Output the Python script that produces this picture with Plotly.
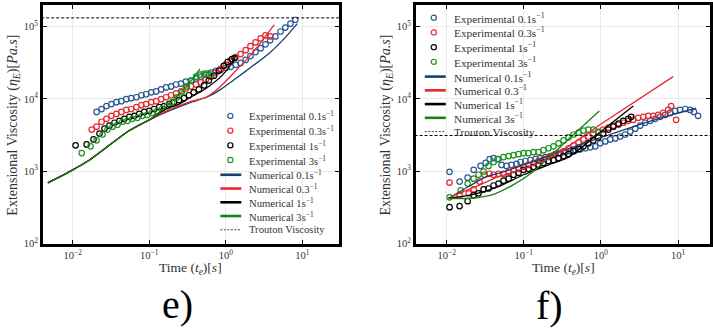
import plotly.graph_objects as go

W, H = 713, 332

# ---------------- Panel e) ----------------
e_exp01_t = [0.0205, 0.0238, 0.0276, 0.032, 0.0372, 0.0432, 0.050, 0.058, 0.068, 0.079, 0.091, 0.106, 0.123, 0.143,
             0.166, 0.193, 0.224, 0.26, 0.30, 0.35, 0.41, 0.47, 0.55, 0.64, 0.74, 0.86, 1.0, 1.16, 1.35, 1.56, 1.82,
             2.1, 2.45, 2.85, 3.3, 3.8, 4.45, 5.2, 6.0, 7.0, 8.1]
e_exp01_eta = [6610, 7240, 7960, 8470, 9020, 9300, 9910, 10230, 10550, 11230, 11590, 12330, 12710, 13540, 14420,
               14870, 15820, 16320, 17380, 17930, 19090, 20330, 21650, 23030, 24500, 25290, 26920, 27790, 29580,
               31480, 34590, 39180, 44370, 50250, 56950, 64550, 73110, 85520, 96800, 109800, 124400]

e_exp03_t = [0.0177, 0.0205, 0.0238, 0.0276, 0.032, 0.0372, 0.0432, 0.050, 0.058, 0.068, 0.079, 0.091, 0.106, 0.123,
             0.143, 0.166, 0.193, 0.224, 0.26, 0.30, 0.35, 0.41, 0.47, 0.55, 0.64, 0.74, 0.86, 1.0, 1.16, 1.35, 1.56,
             1.82, 2.1, 2.45, 2.85, 3.3, 3.8]
e_exp03_eta = [3760, 4130, 4830, 5310, 5830, 6200, 6610, 7030, 7250, 7710, 8220, 8470, 9020, 9300, 9910, 10550,
               11230, 11950, 12710, 13960, 14870, 15820, 16860, 18510, 20330, 23030, 26110, 29580, 33510, 37960,
               41700, 47210, 53550, 60670, 68710, 75510, 73110]

e_exp1_t = [0.0109, 0.0152, 0.0187, 0.0224, 0.026, 0.0302, 0.0351, 0.0408, 0.0473, 0.055, 0.0638, 0.074, 0.086, 0.1,
            0.116, 0.135, 0.157, 0.182, 0.21, 0.245, 0.284, 0.33, 0.38, 0.445, 0.52, 0.6, 0.7, 0.81, 0.94, 1.06,
            1.2, 1.3]
e_exp1_eta = [2280, 2350, 2750, 3320, 3880, 4260, 4680, 4980, 5300, 5650, 5830, 6200, 6600, 6810, 7250, 7710, 7960,
              8470, 9020, 9600, 10230, 11230, 12330, 13540, 15350, 17930, 20980, 24500, 28650, 32500, 35660, 36800]

e_exp3_t = [0.0131, 0.0171, 0.0205, 0.0245, 0.0285, 0.0331, 0.0384, 0.0446, 0.0518, 0.060, 0.070, 0.081, 0.094,
            0.109, 0.127, 0.147, 0.171, 0.199, 0.231, 0.268, 0.31, 0.36, 0.41, 0.46, 0.52, 0.58, 0.64]
e_exp3_eta = [1780, 2210, 2670, 3220, 3760, 4130, 4390, 4830, 4980, 5300, 5470, 5830, 6010, 6400, 6810, 7250, 7960,
              9020, 10550, 12330, 14870, 17930, 20330, 21650, 22340, 22340, 21650]

e_num01_t = [0.00473, 0.01, 0.0166, 0.0277, 0.055, 0.1, 0.157, 0.33, 0.6, 0.86, 1.35, 2.17, 3.6, 6.0, 8.6]
e_num01_eta = [690, 1045, 1430, 2140, 3650, 5100, 6400, 8750, 10880, 13540, 19090, 27790, 41700, 70960, 109800]
e_num03_t = [0.00473, 0.01, 0.0166, 0.0277, 0.055, 0.1, 0.157, 0.33, 0.55, 0.81, 1.35, 2.17, 2.95, 4.3]
e_num03_eta = [690, 1045, 1430, 2140, 3650, 5120, 6600, 9020, 10550, 14200, 24500, 41700, 62500, 106400]
e_num1_t = [0.00473, 0.01, 0.0166, 0.0277, 0.055, 0.1, 0.157, 0.245, 0.33, 0.55, 0.89, 1.2, 1.35]
e_num1_eta = [690, 1045, 1430, 2140, 3650, 5140, 7030, 8470, 10230, 13960, 20980, 31000, 40000]
e_num3_t = [0.00473, 0.01, 0.0166, 0.0277, 0.055, 0.1, 0.157, 0.211, 0.285, 0.362, 0.459]
e_num3_eta = [690, 1045, 1430, 2140, 3650, 5140, 7480, 9910, 13540, 18510, 26110]
e_trouton = 1.32e5

# ---------------- Panel f) ----------------
f_exp01_t = [0.0109, 0.0147, 0.0187, 0.0224, 0.0275, 0.0320, 0.0360, 0.0406, 0.0457, 0.0515, 0.0598, 0.0693,
             0.0805, 0.0906, 0.105, 0.122, 0.142, 0.164, 0.191, 0.221, 0.257, 0.298, 0.346, 0.402, 0.466, 0.541,
             0.628, 0.729, 0.847, 0.982, 1.14, 1.32, 1.54, 1.78, 2.07, 2.40, 2.79, 3.23, 3.75, 4.36, 5.06, 5.87,
             6.81, 7.91, 9.18, 10.6, 12.4, 14.4, 16.1, 18.2]
f_exp01_eta = [982, 718, 813, 1045, 1183, 1300, 1473, 1520, 1473, 1222, 1183, 1222, 1260, 1342, 1384, 1429, 1473,
               1520, 1568, 1618, 1722, 1778, 1834, 1893, 1952, 2015, 2078, 2144, 2212, 2428, 2585, 2752, 2839, 3022,
               3217, 3531, 3876, 4265, 4680, 4980, 5300, 5650, 6010, 6400, 6810, 7030, 7250, 7030, 6600, 5830]

f_exp03_t = [0.0109, 0.0147, 0.0193, 0.0224, 0.0267, 0.0310, 0.0360, 0.0406, 0.0470, 0.0546, 0.0635, 0.0737,
             0.0856, 0.0994, 0.115, 0.134, 0.155, 0.180, 0.209, 0.243, 0.282, 0.328, 0.380, 0.442, 0.513, 0.594,
             0.687, 0.797, 0.927, 1.07, 1.25, 1.45, 1.69, 1.95, 2.26, 2.63, 3.04, 3.54, 4.11, 4.77, 5.54, 6.43,
             7.46, 8.15, 9.45]
f_exp03_eta = [697, 464, 494, 560, 718, 893, 923, 893, 923, 923, 982, 1045, 1079, 1149, 1222, 1300, 1384, 1473,
               1568, 1668, 1778, 1893, 2078, 2280, 2506, 2752, 3022, 3320, 3423, 3760, 4000, 4265, 4393, 4680, 4980,
               5140, 5470, 5650, 5830, 5830, 6010, 6400, 7030, 7960, 5140]

f_exp1_t = [0.0109, 0.0147, 0.0187, 0.0224, 0.0259, 0.0301, 0.0349, 0.0406, 0.0470, 0.0546, 0.0635, 0.0737, 0.0856,
            0.0994, 0.115, 0.134, 0.155, 0.180, 0.209, 0.243, 0.282, 0.328, 0.380, 0.442, 0.513, 0.594, 0.687,
            0.797, 0.927, 1.07, 1.25, 1.45, 1.69, 1.95, 2.26, 2.47]
f_exp1_eta = [318, 329, 385, 464, 494, 560, 577, 634, 675, 741, 789, 893, 951, 1045, 1079, 1149, 1222, 1300, 1384,
              1429, 1520, 1618, 1722, 1893, 2015, 2212, 2428, 2666, 2930, 3320, 3760, 4130, 4540, 4980, 5300, 5650]

f_exp3_t = [0.0109, 0.0152, 0.0187, 0.0224, 0.0259, 0.0301, 0.0349, 0.0406, 0.0470, 0.0546, 0.0635, 0.0737, 0.0856,
            0.0994, 0.115, 0.134, 0.155, 0.180, 0.209, 0.243, 0.282, 0.328, 0.380, 0.442, 0.513, 0.594, 0.687,
            0.797, 0.927]
f_exp3_eta = [436, 542, 675, 789, 893, 990, 1183, 1342, 1473, 1568, 1618, 1668, 1722, 1778, 1778, 1834, 1834, 1952,
              2078, 2212, 2428, 2666, 2930, 3217, 3423, 3650, 3760, 3760, 3531]

f_num01_t = [0.0106, 0.0193, 0.0329, 0.0546, 0.0994, 0.282, 1.01, 4.49, 17.1]
f_num01_eta = [423, 614, 840, 982, 1222, 1834, 2930, 4980, 7480]
f_num03_t = [0.0106, 0.0166, 0.0275, 0.047, 0.0906, 0.228, 0.927, 8.65]
f_num03_eta = [423, 525, 653, 840, 1045, 1568, 4265, 20330]
f_num1_t = [0.0106, 0.0224, 0.047, 0.0994, 0.209, 0.38, 0.927, 2.63]
f_num1_eta = [423, 479, 614, 893, 1222, 1568, 3320, 7960]
f_num3_t = [0.0106, 0.0204, 0.0406, 0.0737, 0.122, 0.228, 0.442, 0.955]
f_num3_eta = [423, 423, 479, 653, 923, 1668, 3217, 6810]
f_trouton = 3.12e3

x_tick_vals = [0.01, 0.1, 1, 10]
x_tick_text = ["10<sup>\u22122</sup>", "10<sup>\u22121</sup>", "10<sup>0</sup>", "10<sup>1</sup>"]
y_tick_vals = [100, 1000, 10000, 100000]
y_tick_text = ["10<sup>2</sup>", "10<sup>3</sup>", "10<sup>4</sup>", "10<sup>5</sup>"]

legend_labels = ["Experimental 0.1s<sup>\u22121</sup>", "Experimental 0.3s<sup>\u22121</sup>",
                 "Experimental 1s<sup>\u22121</sup>", "Experimental 3s<sup>\u22121</sup>",
                 "Numerical 0.1s<sup>\u22121</sup>", "Numerical 0.3<sup>\u22121</sup>",
                 "Numerical 1s<sup>\u22121</sup>", "Numerical 3s<sup>\u22121</sup>", "Trouton Viscosity"]

# ---------------- Styles ----------------
FONT = "Liberation Serif, DejaVu Serif, serif"
C_BLUE_EXP = "#2b5a94"
C_BLUE_NUM = "#17406f"
C_RED = "#e8282e"
C_BLACK = "#000000"
C_GREEN_EXP = "#1f9420"
C_GREEN_NUM = "#158015"

exp_colors = [C_BLUE_EXP, C_RED, C_BLACK, C_GREEN_EXP]
num_colors = [C_BLUE_NUM, C_RED, C_BLACK, C_GREEN_NUM]

fig = go.Figure()


def add_panel(xa, ya, exps, nums, trouton):
    for (t, eta), col in zip(exps, exp_colors):
        fig.add_trace(go.Scatter(x=t, y=eta, mode="markers", xaxis=xa, yaxis=ya, showlegend=False,
                                 marker=dict(symbol="circle-open", size=5.5, color=col, line=dict(width=1.2))))
    for (t, eta), col in zip(nums, num_colors):
        fig.add_trace(go.Scatter(x=t, y=eta, mode="lines", xaxis=xa, yaxis=ya, showlegend=False,
                                 line=dict(color=col, width=1.3, shape="spline", smoothing=0.8)))
    fig.add_trace(go.Scatter(x=[1e-3, 1e2], y=[trouton, trouton], mode="lines", xaxis=xa, yaxis=ya,
                             showlegend=False, line=dict(color="black", width=1, dash="3px,2px")))


add_panel("x", "y",
          [(e_exp01_t, e_exp01_eta), (e_exp03_t, e_exp03_eta), (e_exp1_t, e_exp1_eta), (e_exp3_t, e_exp3_eta)],
          [(e_num01_t, e_num01_eta), (e_num03_t, e_num03_eta), (e_num1_t, e_num1_eta), (e_num3_t, e_num3_eta)],
          e_trouton)
add_panel("x2", "y2",
          [(f_exp01_t, f_exp01_eta), (f_exp03_t, f_exp03_eta), (f_exp1_t, f_exp1_eta), (f_exp3_t, f_exp3_eta)],
          [(f_num01_t, f_num01_eta), (f_num03_t, f_num03_eta), (f_num1_t, f_num1_eta), (f_num3_t, f_num3_eta)],
          f_trouton)


def px(x):
    return x / W


def py(y):
    return 1 - y / H


axis_common = dict(type="log", showline=True, linecolor="black", linewidth=2.6, mirror="ticks",
                   ticks="inside", ticklen=4, tickwidth=1.2, tickcolor="black",
                   showgrid=True, gridcolor="#e9e9e9", gridwidth=1, zeroline=False,
                   tickfont=dict(family=FONT, size=10.5, color="#333"))

fig.update_layout(
    width=W, height=H, margin=dict(l=0, r=0, t=0, b=0),
    paper_bgcolor="white", plot_bgcolor="white", showlegend=False,
    xaxis=dict(axis_common, domain=[px(43), px(340)], range=[-2.39, 1.48], anchor="y",
               tickvals=x_tick_vals, ticktext=x_tick_text),
    yaxis=dict(axis_common, domain=[py(248), py(5)], range=[2, 5.30], anchor="x",
               tickvals=y_tick_vals, ticktext=y_tick_text),
    xaxis2=dict(axis_common, domain=[px(417), px(712)], range=[-2.40, 1.415], anchor="y2",
                tickvals=x_tick_vals, ticktext=x_tick_text),
    yaxis2=dict(axis_common, domain=[py(248), py(5)], range=[2, 5.30], anchor="x2",
                tickvals=y_tick_vals, ticktext=y_tick_text),
)

annotations = []
shapes = []


def text_ann(x, y, text, size, angle=0, xanchor="center", color="#333"):
    annotations.append(dict(x=px(x), y=py(y), xref="paper", yref="paper", text=text, showarrow=False,
                            xanchor=xanchor, yanchor="middle", textangle=angle,
                            font=dict(family=FONT, size=size, color=color)))


# axis titles
x_title = "Time (<i>t<sub>e</sub></i>)[<i>s</i>]"
y_title = "Extensional Viscosity (<i>\u03b7<sub>E</sub></i>)[<i>Pa.s</i>]"
text_ann(191, 273, x_title, 13.5)
text_ann(565, 273, x_title, 13.5)
text_ann(14, 127, y_title, 14, angle=-90)
text_ann(388, 127, y_title, 14, angle=-90)

# panel labels
text_ann(178, 310, "e)", 40, color="black")
text_ann(551, 311, "f)", 40, color="black")


def draw_legend(marker_x, line_x0, line_x1, text_x, ys, size):
    for i, (lab, y) in enumerate(zip(legend_labels, ys)):
        if i < 4:
            shapes.append(dict(type="circle", xref="paper", yref="paper", xsizemode="pixel", ysizemode="pixel",
                               xanchor=px(marker_x), yanchor=py(y), x0=-2.6, x1=2.6, y0=-2.6, y1=2.6,
                               line=dict(color=exp_colors[i], width=1.2), fillcolor="rgba(0,0,0,0)"))
        elif i < 8:
            shapes.append(dict(type="line", xref="paper", yref="paper", x0=px(line_x0), x1=px(line_x1),
                               y0=py(y), y1=py(y), line=dict(color=num_colors[i - 4], width=2.6)))
        else:
            shapes.append(dict(type="line", xref="paper", yref="paper", x0=px(line_x0), x1=px(line_x1),
                               y0=py(y), y1=py(y), line=dict(color="#444", width=1, dash="2px,1.5px")))
        text_ann(text_x, y, lab, size, xanchor="left")


draw_legend(231, 221, 242, 248, [118, 133, 148, 163, 178, 192, 206, 220, 234], 10.6)
draw_legend(435, 426, 447, 453, [18, 33, 48, 63, 78, 92, 106, 120, 134], 11.3)

fig.update_layout(annotations=annotations, shapes=shapes)
fig.write_html("out.html")
